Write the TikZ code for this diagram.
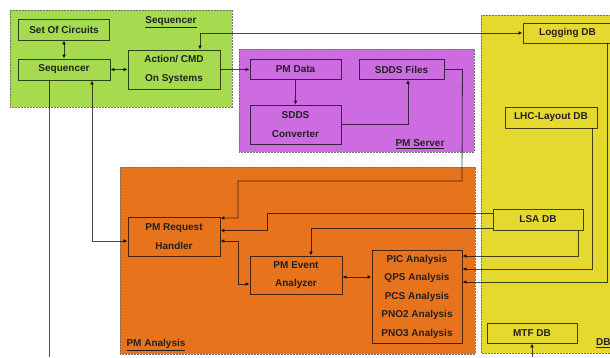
\documentclass[tikz,border=0pt]{standalone}
\usepackage{fontspec}
\setmainfont{Liberation Sans}
\usetikzlibrary{arrows.meta}
\definecolor{cgreen}{HTML}{A6DA4F}
\definecolor{cpurple}{HTML}{CC6CE0}
\definecolor{corange}{HTML}{E8731D}
\definecolor{cyellow}{HTML}{E5D92F}
\definecolor{ctext}{HTML}{222222}
\tikzset{
  grp/.style={draw=black!55, line width=0.8pt, dash pattern=on 2pt off 1pt},
  box/.style={draw=black, draw opacity=0.7, line width=0.9pt, inner sep=0pt, align=center,
    font=\bfseries\fontsize{10}{18.5}\selectfont, text=ctext},
  lbl/.style={font=\bfseries\fontsize{10}{12}\selectfont, text=ctext, inner sep=0pt},
  conn/.style={draw=black, draw opacity=0.7, line width=0.8pt},
  tip/.tip={Latex[length=4pt,width=4pt]},
}
\begin{document}
\begin{tikzpicture}[x=1pt,y=-1pt]
\useasboundingbox (0,0) rectangle (610,357);
\clip (0,0) rectangle (610,357);
% groups
\fill[white] (0,0) rectangle (610,357);
\draw[grp, fill=cgreen] (10,10) rectangle (232,107);
\draw[grp, fill=cpurple] (239,49) rectangle (474,152);
\draw[grp, fill=corange] (120,167) rectangle (475,354);
\draw[grp, fill=cyellow] (481,15) rectangle (625,353);
\node[lbl] (lseq) at (171,22) {\underline{Sequencer}};
\node[lbl] (lpms) at (420,144) {\underline{PM Server}};
\node[lbl] (lpma) at (156,345) {\underline{PM Analysis}};
\node[lbl, anchor=west] (ldb) at (596,343) {\underline{DB}};
% boxes
\node[box, minimum width=91, minimum height=21] (soc) at (64,29.5) {Set Of Circuits};
\node[box, minimum width=92, minimum height=21] (seq) at (64,69.5) {Sequencer};
\node[box, minimum width=92, minimum height=39] (act) at (174,69.5) {Action/ CMD\\On Systems};
\node[box, minimum width=91, minimum height=20] (pmdata) at (295.5,69.5) {PM Data};
\node[box, minimum width=85, minimum height=20] (sddsf) at (401.5,69.5) {SDDS Files};
\node[box, minimum width=91, minimum height=39] (conv) at (295.5,124.5) {SDDS\\Converter};
\node[box, minimum width=92, minimum height=39] (handler) at (174,236.5) {PM Request\\Handler};
\node[box, minimum width=92, minimum height=38] (event) at (296,275) {PM Event\\Analyzer};
\node[box, minimum width=90, minimum height=93] (ana) at (417,296.5) {PIC Analysis\\QPS Analysis\\PCS Analysis\\PNO2 Analysis\\PNO3 Analysis};
\node[box, minimum width=89, minimum height=20] (logging) at (567.5,33) {Logging DB};
\node[box, minimum width=92, minimum height=21] (lhc) at (551,117.5) {LHC-Layout DB};
\node[box, minimum width=90, minimum height=21] (lsa) at (538,219.5) {LSA DB};
\node[box, minimum width=90, minimum height=20] (mtf) at (532,333) {MTF DB};
% free ends
\coordinate (seqout) at (49,357);
\coordinate (mtfin) at (532,357);
% connectors
\draw[conn, tip-tip] (soc.south) -- (seq.north);
\draw[conn, tip-tip] (seq.east) -- (act.west);
\draw[conn, tip-tip] ([xshift=26]act.north) |- (logging.west);
\draw[conn, -tip] (act.east) -- (pmdata.west);
\draw[conn, -tip] (pmdata.south) -- (conv.north);
\draw[conn, -tip] (conv.east) -| ([xshift=6.5]sddsf.south);
\draw[conn, -tip] (sddsf.east) -- ++(18,0) -- (462,181) -- (238,181) -- (238,218) -- (handler.east |- 0,218);
\draw[conn, -tip] ([yshift=6.5]lsa.west) -- (267,213) -- (267,230.5) -- (handler.east |- 0,230.5);
\draw[conn, -tip] ([yshift=-8.5]lsa.west) -- (311,228) -- (event.north -| 311,0);
\draw[conn, tip-tip] ([yshift=-4.5]handler.east) -- (238,241) |- ([yshift=-9]event.west);
\draw[conn, tip-tip] ([yshift=-2]event.east) -- ([yshift=-2]event.east -| ana.west);
\draw[conn, -tip] ([xshift=40]lsa.south) |- ([yshift=40.5]ana.east);
\draw[conn, -tip] ([xshift=41]lhc.south) |- ([yshift=27.5]ana.east);
\draw[conn, -tip] ([xshift=39.5]logging.south) |- ([yshift=14.5]ana.east);
\draw[conn, tip-tip] ([yshift=-4.5]handler.west) -| ([xshift=28]seq.south);
\draw[conn] ([xshift=-15]seq.south) -- (seqout);
\draw[conn, -tip] (mtfin) -- (mtf.south);
\end{tikzpicture}
\end{document}
